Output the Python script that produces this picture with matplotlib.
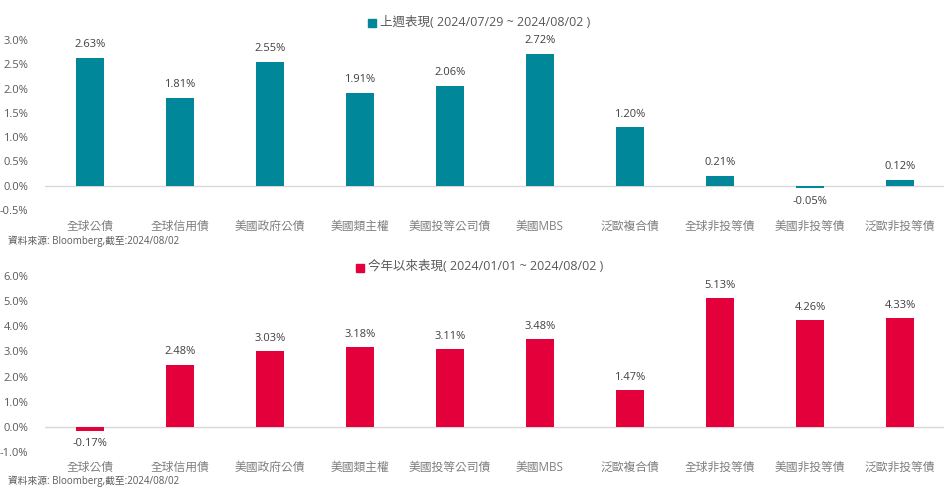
import matplotlib
matplotlib.use("Agg")
import matplotlib.pyplot as plt
from matplotlib.ticker import FuncFormatter

plt.rcParams['font.family'] = ['Open Sans', 'Noto Sans CJK TC', 'DejaVu Sans']

categories = ["全球公債", "全球信用債", "美國政府公債", "美國類主權", "美國投等公司債",
              "美國MBS", "泛歐複合債", "全球非投等債", "美國非投等債", "泛歐非投等債"]
week_values = [2.63, 1.81, 2.55, 1.91, 2.06, 2.72, 1.20, 0.21, -0.05, 0.12]
ytd_values = [-0.17, 2.48, 3.03, 3.18, 3.11, 3.48, 1.47, 5.13, 4.26, 4.33]
week_title = "上週表現( 2024/07/29 ~ 2024/08/02 )"
ytd_title = "今年以來表現( 2024/01/01 ~ 2024/08/02 )"
source_top = "資料來源: Bloomberg,截至:2024/08/02"
source_bottom = "資料來源: Bloomberg,截至:2024/08/02"

teal = "#00889A"
red = "#E4003A"
tick_color = "#595959"
cat_color = "#7F7F7F"

fig = plt.figure(figsize=(9.45, 4.87), dpi=100)
W, H = 945, 487

def make_axes(top_px, bottom_px):
    return fig.add_axes([45 / W, 1 - bottom_px / H, 1 - 45 / W, (bottom_px - top_px) / H])

def draw(ax, values, color, ylim, yticks, fmt, offset_frac):
    x = list(range(len(categories)))
    ax.bar(x, values, width=0.31, color=color, zorder=2)
    ax.set_xlim(-0.5, len(categories) - 0.5)
    ax.set_ylim(*ylim)
    ax.set_yticks(yticks)
    ax.yaxis.set_major_formatter(FuncFormatter(lambda v, p: fmt.format(v)))
    ax.axhline(0, color="#D9D9D9", lw=1, zorder=1)
    for s in ax.spines.values():
        s.set_visible(False)
    ax.tick_params(axis='y', length=0, labelsize=8, colors=tick_color, pad=12)
    ax.tick_params(axis='x', length=0)
    ax.set_xticks([])
    rng = ylim[1] - ylim[0]
    for xi, v in zip(x, values):
        if v >= 0:
            ax.text(xi, v + rng * offset_frac, f"{v:.2f}%", ha='center', va='bottom',
                    fontsize=8, color="#404040")
        else:
            ax.text(xi, v - rng * offset_frac, f"{v:.2f}%", ha='center', va='top',
                    fontsize=8, color="#404040")

ax1 = make_axes(40, 210)
draw(ax1, week_values, teal, (-0.5, 3.0), [-0.5, 0, 0.5, 1.0, 1.5, 2.0, 2.5, 3.0], "{:.1f}%", 0.045)
for i, c in enumerate(categories):
    ax1.text(i, -0.5, c, transform=ax1.transData, ha='center', va='center',
             fontsize=8.5, color=cat_color, clip_on=False)
ax1.texts[-10:]  # placement adjusted below

ax2 = make_axes(276, 452)
draw(ax2, ytd_values, red, (-1.0, 6.0), [-1, 0, 1, 2, 3, 4, 5, 6], "{:.1f}%", 0.04)

# reposition category labels in pixel space
for t in ax1.texts[-10:]:
    t.remove()
for i, c in enumerate(categories):
    fig.text((45 + 90 * i + 45) / W, 1 - 226 / H, c, ha='center', va='center',
             fontsize=8.5, color=cat_color)
    fig.text((45 + 90 * i + 45) / W, 1 - 467 / H, c, ha='center', va='center',
             fontsize=8.5, color=cat_color)

fig.text(8 / W, 1 - 241 / H, source_top, ha='left', va='center', fontsize=7, color=tick_color)
fig.text(8 / W, 1 - 481 / H, source_bottom, ha='left', va='center', fontsize=7, color=tick_color)

# legends
fig.patches.append(plt.Rectangle((368 / W, 1 - 27 / H), 8 / W, 8 / H, transform=fig.transFigure,
                                 color=teal, figure=fig))
fig.text(380 / W, 1 - 22 / H, week_title, ha='left', va='center', fontsize=9, color=tick_color)
fig.patches.append(plt.Rectangle((356 / W, 1 - 272 / H), 8 / W, 8 / H, transform=fig.transFigure,
                                 color=red, figure=fig))
fig.text(368 / W, 1 - 267 / H, ytd_title, ha='left', va='center', fontsize=9, color=tick_color)

fig.savefig("out.png", dpi=100)
